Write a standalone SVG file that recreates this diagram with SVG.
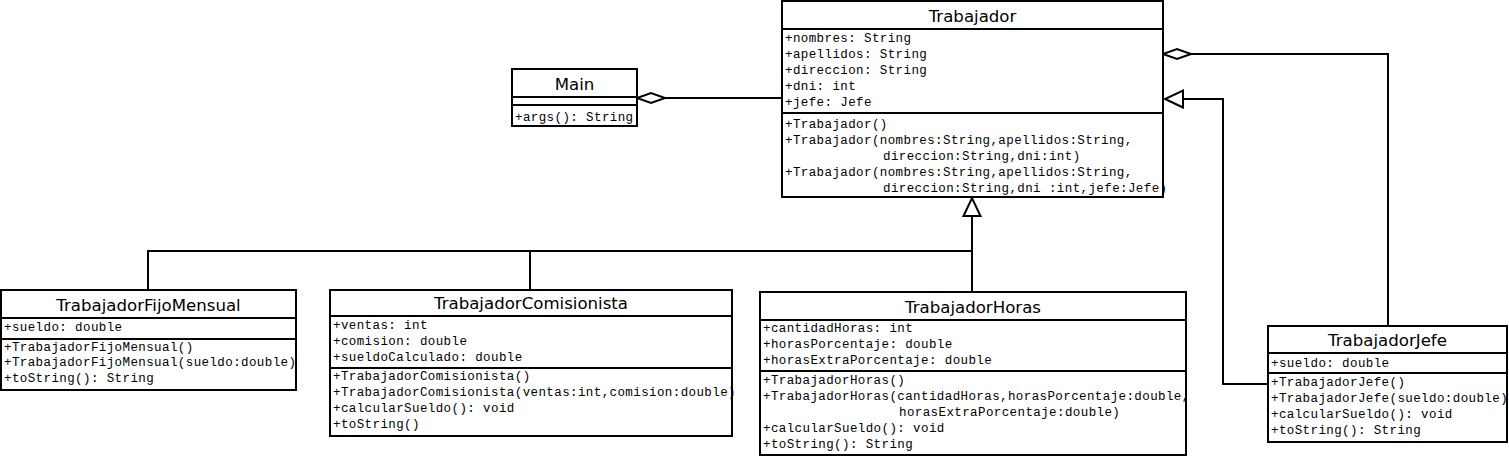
<svg xmlns="http://www.w3.org/2000/svg" width="1509" height="456" viewBox="0 0 1509 456">
<style>
.box{fill:#fff;stroke:#000;stroke-width:2}
.div{stroke:#000;stroke-width:2}
.t{font-family:"DejaVu Sans","Liberation Sans",sans-serif;font-size:16.6px;text-anchor:middle;fill:#000}
.m{font-family:"Liberation Mono","DejaVu Sans Mono",monospace;font-size:12.5px;letter-spacing:0.4px;fill:#000}
.c{fill:none;stroke:#000;stroke-width:2}
.gen{marker-start:url(#tri)}
.agg{marker-start:url(#dia)}
</style>
<defs>
<marker id="tri" markerUnits="userSpaceOnUse" markerWidth="20" markerHeight="20" refX="18" refY="8.5" orient="auto-start-reverse" overflow="visible">
<path d="M0,0 L18,8.5 L0,17 Z" fill="#fff" stroke="#000" stroke-width="2"/>
</marker>
<marker id="dia" markerUnits="userSpaceOnUse" markerWidth="30" markerHeight="12" refX="28" refY="5" orient="auto-start-reverse" overflow="visible">
<path d="M0,5 L14,0 L28,5 L14,10 Z" fill="#fff" stroke="#000" stroke-width="2"/>
</marker>
</defs>

<g id="connectors">
<path class="c gen" d="M972,198 L972,292"/>
<path class="c" d="M148,290 L148,251 L972,251"/>
<path class="c" d="M530,290 L530,251"/>
<path class="c gen" d="M1165,99 L1223,99 L1223,384 L1268,384"/>
<path class="c agg" d="M637,98 L782,98"/>
<path class="c agg" d="M1163,54 L1388,54 L1388,326"/>
</g>

<g id="Trabajador">
<rect class="box" x="782" y="1" width="381" height="196"/>
<line class="div" x1="782" y1="29" x2="1163" y2="29"/>
<line class="div" x1="782" y1="113" x2="1163" y2="113"/>
<text class="t" x="972.5" y="22">Trabajador</text>
<text class="m" x="785" y="42">+nombres: String</text>
<text class="m" x="785" y="58">+apellidos: String</text>
<text class="m" x="785" y="74">+direccion: String</text>
<text class="m" x="785" y="90">+dni: int</text>
<text class="m" x="785" y="106">+jefe: Jefe</text>
<text class="m" x="785" y="128">+Trabajador()</text>
<text class="m" x="785" y="144">+Trabajador(nombres:String,apellidos:String,</text>
<text class="m" x="883" y="160">direccion:String,dni:int)</text>
<text class="m" x="785" y="176">+Trabajador(nombres:String,apellidos:String,</text>
<text class="m" x="883" y="192">direccion:String,dni :int,jefe:Jefe)</text>
</g>

<g id="Main">
<rect class="box" x="512" y="69" width="125" height="57"/>
<line class="div" x1="512" y1="97" x2="637" y2="97"/>
<line class="div" x1="512" y1="105" x2="637" y2="105"/>
<text class="t" x="574.5" y="90">Main</text>
<text class="m" x="515" y="121">+args(): String</text>
</g>

<g id="TrabajadorFijoMensual">
<rect class="box" x="1" y="290" width="295" height="100"/>
<line class="div" x1="1" y1="318" x2="296" y2="318"/>
<line class="div" x1="1" y1="339" x2="296" y2="339"/>
<text class="t" x="148.5" y="311">TrabajadorFijoMensual</text>
<text class="m" x="4" y="331">+sueldo: double</text>
<text class="m" x="4" y="351">+TrabajadorFijoMensual()</text>
<text class="m" x="4" y="366">+TrabajadorFijoMensual(sueldo:double)</text>
<text class="m" x="4" y="382">+toString(): String</text>
</g>

<g id="TrabajadorComisionista">
<rect class="box" x="330" y="290" width="402" height="146"/>
<line class="div" x1="330" y1="316" x2="732" y2="316"/>
<line class="div" x1="330" y1="368" x2="732" y2="368"/>
<text class="t" x="531" y="309">TrabajadorComisionista</text>
<text class="m" x="333" y="329">+ventas: int</text>
<text class="m" x="333" y="345">+comision: double</text>
<text class="m" x="333" y="361">+sueldoCalculado: double</text>
<text class="m" x="333" y="380">+TrabajadorComisionista()</text>
<text class="m" x="333" y="396">+TrabajadorComisionista(ventas:int,comision:double)</text>
<text class="m" x="333" y="412">+calcularSueldo(): void</text>
<text class="m" x="333" y="428">+toString()</text>
</g>

<g id="TrabajadorHoras">
<rect class="box" x="760" y="292" width="426" height="163"/>
<line class="div" x1="760" y1="320" x2="1186" y2="320"/>
<line class="div" x1="760" y1="371" x2="1186" y2="371"/>
<text class="t" x="973" y="313">TrabajadorHoras</text>
<text class="m" x="763" y="332">+cantidadHoras: int</text>
<text class="m" x="763" y="348">+horasPorcentaje: double</text>
<text class="m" x="763" y="364">+horasExtraPorcentaje: double</text>
<text class="m" x="763" y="384">+TrabajadorHoras()</text>
<text class="m" x="763" y="400">+TrabajadorHoras(cantidadHoras,horasPorcentaje:double,</text>
<text class="m" x="899" y="416">horasExtraPorcentaje:double)</text>
<text class="m" x="763" y="432">+calcularSueldo(): void</text>
<text class="m" x="763" y="448">+toString(): String</text>
</g>

<g id="TrabajadorJefe">
<rect class="box" x="1268" y="326" width="239" height="116"/>
<line class="div" x1="1268" y1="353" x2="1507" y2="353"/>
<line class="div" x1="1268" y1="373" x2="1507" y2="373"/>
<text class="t" x="1387.5" y="346">TrabajadorJefe</text>
<text class="m" x="1271" y="367">+sueldo: double</text>
<text class="m" x="1271" y="386">+TrabajadorJefe()</text>
<text class="m" x="1271" y="402">+TrabajadorJefe(sueldo:double)</text>
<text class="m" x="1271" y="418">+calcularSueldo(): void</text>
<text class="m" x="1271" y="434">+toString(): String</text>
</g>
</svg>
